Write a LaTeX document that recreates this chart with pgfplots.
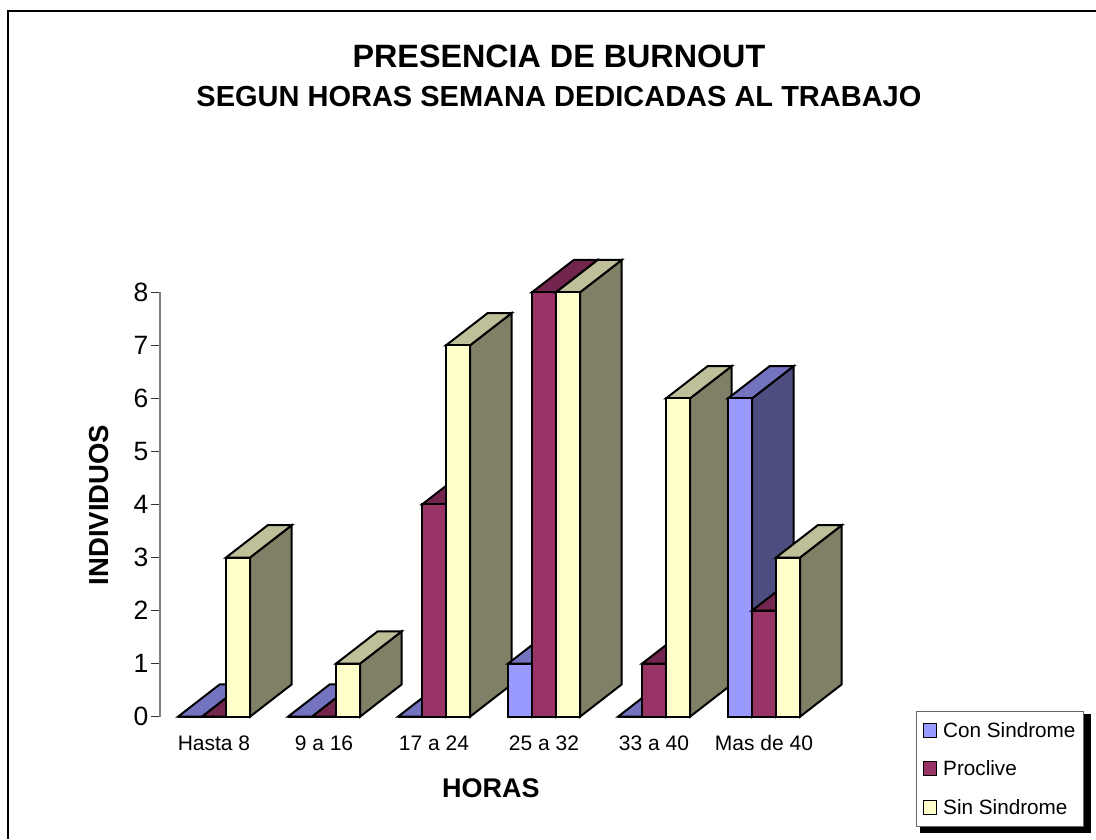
\documentclass[border=0pt]{standalone}
\usepackage{fontspec}
\setmainfont{Liberation Sans}
\usepackage{pgfplots}
\pgfplotsset{compat=1.18}
\definecolor{conF}{HTML}{9999FF}\definecolor{conS}{HTML}{4D4D80}\definecolor{conT}{HTML}{7373BF}
\definecolor{proF}{HTML}{993366}\definecolor{proS}{HTML}{4D1A33}\definecolor{proT}{HTML}{73264D}
\definecolor{sinF}{HTML}{FFFFCC}\definecolor{sinS}{HTML}{808066}\definecolor{sinT}{HTML}{BFBF99}
% #1 category index, #2 slot in group, #3 value, #4 series colour prefix
\newcommand\threedbar[4]{%
  \pgfmathsetmacro\xa{#1-0.32727+#2*0.21818}%
  \pgfmathsetmacro\xb{\xa+0.21818}%
  \pgfmathsetmacro\xc{\xa+0.37909}%
  \pgfmathsetmacro\xd{\xb+0.37909}%
  \pgfmathsetmacro\yt{#3+0.609}%
  \pgfmathsetmacro\yb{0.609}%
  \addplot[forget plot,fill=#4S,draw=black,line width=2pt,mark=none] coordinates {(\xb,0) (\xd,\yb) (\xd,\yt) (\xb,#3)} --cycle;
  \addplot[forget plot,fill=#4T,draw=black,line width=2pt,mark=none] coordinates {(\xa,#3) (\xc,\yt) (\xd,\yt) (\xb,#3)} --cycle;
  \addplot[forget plot,fill=#4F,draw=black,line width=2pt,mark=none] coordinates {(\xa,0) (\xb,0) (\xb,#3) (\xa,#3)} --cycle;
}
\begin{document}
\begin{tikzpicture}
\useasboundingbox (0,0) rectangle (1096pt,839pt);
\fill[white] (0,0) rectangle (1096pt,839pt);
\draw[black,line width=2pt] (8.3pt,0) -- (8.3pt,828pt) -- (1096pt,828pt);
\fill[black] (920pt,6pt) rectangle (1091pt,125pt);
\begin{axis}[
  at={(160pt,122.3pt)},anchor=south west,
  x=110pt,y=53.05pt,
  xmin=-0.4909,xmax=5.7091,ymin=0,ymax=8,
  clip=false,
  axis lines=left,
  axis line style={-},
  x axis line style={draw=none},
  y axis line style={draw=black!50,line width=1.4pt},
  xtick={0,1,2,3,4,5},
  xticklabels={Hasta 8,9 a 16,17 a 24,25 a 32,33 a 40,Mas de 40},
  ytick={0,1,2,3,4,5,6,7,8},
  xtick style={draw=none},
  ytick style={draw=black!80,line width=1.2pt},
  tick align=outside,
  major tick length=9pt,
  /pgf/number format/assume math mode=true,
  xticklabel style={font=\fontsize{21}{24}\selectfont,yshift=-6.5pt},
  yticklabel style={font=\fontsize{26.5}{30}\selectfont,xshift=1pt},
  xlabel={HORAS},
  ylabel={INDIVIDUOS},
  xlabel style={font=\bfseries\fontsize{27}{30}\selectfont,at={(rel axis cs:0.4853,-0.168)},anchor=center},
  ylabel style={font=\bfseries\fontsize{27.5}{30}\selectfont,at={(rel axis cs:-0.0895,0.499)},anchor=center},
  title={{\fontsize{32.3}{41}\selectfont PRESENCIA DE BURNOUT}\\[18pt]{\fontsize{29}{41}\selectfont SEGUN HORAS SEMANA DEDICADAS AL TRABAJO}},
  title style={font=\bfseries,align=center,at={(rel axis cs:0.585,1.496)},anchor=center},
  legend cell align=left,
  legend style={at={(rel axis cs:1.1085,0.0134)},anchor=north west,draw=black!60,line width=1pt,fill=white,
    font=\fontsize{20.7}{24}\selectfont,row sep=18pt,inner xsep=6pt,inner ysep=8.5pt},
  legend image code/.code={\path[draw=none,fill=none] (0pt,0pt) -- (18pt,0pt);\draw[#1,line width=1.4pt] (0pt,-7pt) rectangle (13pt,7pt);},
]
\addlegendimage{fill=conF,draw=black}\addlegendentry{Con Sindrome}
\addlegendimage{fill=proF,draw=black}\addlegendentry{Proclive}
\addlegendimage{fill=sinF,draw=black}\addlegendentry{Sin Sindrome}
% Hasta 8
\threedbar{0}{0}{0}{con}\threedbar{0}{1}{0}{pro}\threedbar{0}{2}{3}{sin}
% 9 a 16
\threedbar{1}{0}{0}{con}\threedbar{1}{1}{0}{pro}\threedbar{1}{2}{1}{sin}
% 17 a 24
\threedbar{2}{0}{0}{con}\threedbar{2}{1}{4}{pro}\threedbar{2}{2}{7}{sin}
% 25 a 32
\threedbar{3}{0}{1}{con}\threedbar{3}{1}{8}{pro}\threedbar{3}{2}{8}{sin}
% 33 a 40
\threedbar{4}{0}{0}{con}\threedbar{4}{1}{1}{pro}\threedbar{4}{2}{6}{sin}
% Mas de 40
\threedbar{5}{0}{6}{con}\threedbar{5}{1}{2}{pro}\threedbar{5}{2}{3}{sin}
\end{axis}
\end{tikzpicture}
\end{document}
